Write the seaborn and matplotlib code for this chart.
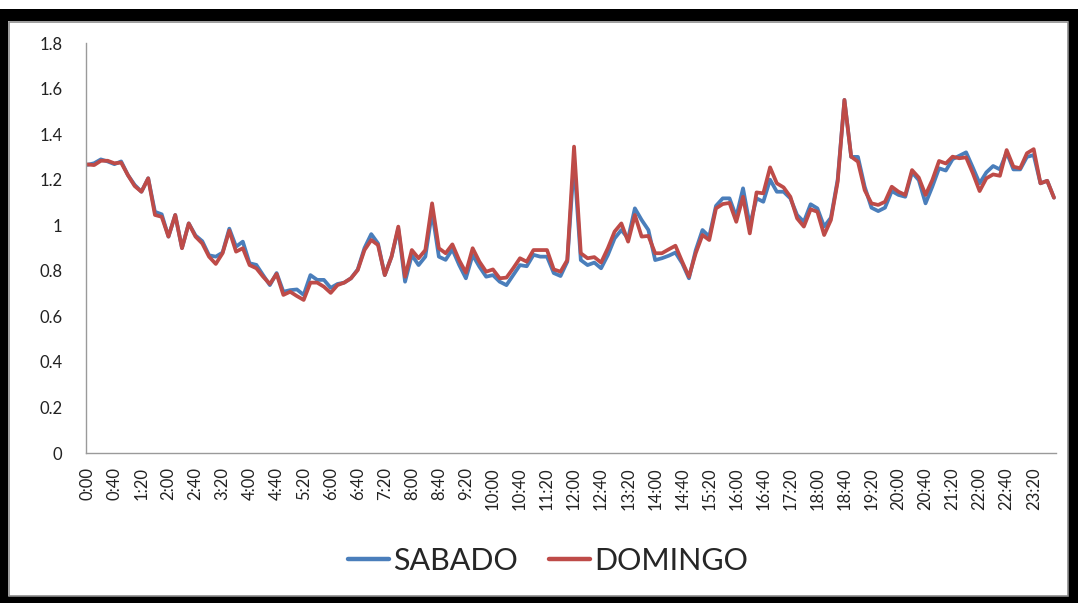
import matplotlib
matplotlib.use("Agg")
import matplotlib.pyplot as plt
from matplotlib.patches import Rectangle
import pandas as pd
import seaborn as sns

# 10-minute time slots over one day
horas = [f"{m // 60}:{m % 60:02d}" for m in range(0, 1440, 10)]

sabado = [
    1.265, 1.272, 1.289, 1.280, 1.268, 1.280, 1.220, 1.177, 1.147, 1.206,
    1.059, 1.048, 0.950, 1.045, 0.900, 1.008, 0.955, 0.930, 0.868, 0.862,
    0.880, 0.985, 0.906, 0.928, 0.833, 0.826, 0.781, 0.737, 0.790, 0.708,
    0.715, 0.718, 0.694, 0.781, 0.760, 0.760, 0.725, 0.742, 0.748, 0.767,
    0.806, 0.900, 0.961, 0.920, 0.781, 0.862, 0.985, 0.752, 0.869, 0.825,
    0.862, 1.059, 0.862, 0.848, 0.894, 0.826, 0.767, 0.869, 0.818, 0.774,
    0.781, 0.752, 0.737, 0.781, 0.825, 0.820, 0.870, 0.862, 0.862, 0.790,
    0.777, 0.840, 1.280, 0.847, 0.825, 0.836, 0.811, 0.869, 0.942, 0.979,
    0.942, 1.074, 1.023, 0.979, 0.847, 0.855, 0.866, 0.880, 0.833, 0.767,
    0.890, 0.979, 0.950, 1.085, 1.118, 1.118, 1.037, 1.162, 1.000, 1.118,
    1.103, 1.200, 1.147, 1.147, 1.118, 1.045, 1.015, 1.092, 1.074, 0.994,
    1.033, 1.200, 1.550, 1.300, 1.300, 1.169, 1.077, 1.062, 1.077, 1.150,
    1.133, 1.125, 1.232, 1.198, 1.096, 1.169, 1.250, 1.240, 1.290, 1.305,
    1.320, 1.253, 1.184, 1.232, 1.260, 1.245, 1.320, 1.245, 1.245, 1.300,
    1.308, 1.184, 1.195, 1.121,
]

domingo = [
    1.267, 1.264, 1.283, 1.283, 1.272, 1.275, 1.220, 1.172, 1.147, 1.206,
    1.045, 1.037, 0.950, 1.045, 0.899, 1.008, 0.950, 0.920, 0.862, 0.830,
    0.877, 0.976, 0.884, 0.899, 0.825, 0.811, 0.774, 0.742, 0.786, 0.694,
    0.708, 0.689, 0.672, 0.748, 0.748, 0.730, 0.703, 0.737, 0.748, 0.767,
    0.803, 0.891, 0.935, 0.913, 0.781, 0.862, 0.994, 0.774, 0.891, 0.855,
    0.891, 1.096, 0.899, 0.877, 0.916, 0.847, 0.792, 0.899, 0.840, 0.796,
    0.806, 0.767, 0.770, 0.811, 0.855, 0.840, 0.891, 0.891, 0.891, 0.806,
    0.796, 0.847, 1.345, 0.877, 0.855, 0.860, 0.836, 0.899, 0.972, 1.008,
    0.928, 1.045, 0.950, 0.953, 0.877, 0.877, 0.894, 0.910, 0.840, 0.774,
    0.877, 0.957, 0.935, 1.074, 1.093, 1.098, 1.015, 1.125, 0.964, 1.144,
    1.140, 1.254, 1.184, 1.166, 1.125, 1.030, 0.994, 1.070, 1.059, 0.957,
    1.023, 1.191, 1.550, 1.301, 1.279, 1.154, 1.096, 1.089, 1.103, 1.169,
    1.147, 1.133, 1.242, 1.209, 1.133, 1.198, 1.282, 1.271, 1.301, 1.294,
    1.298, 1.228, 1.150, 1.206, 1.223, 1.217, 1.330, 1.257, 1.250, 1.316,
    1.334, 1.184, 1.195, 1.121,
]

series_names = ["SABADO", "DOMINGO"]
colors = {"SABADO": "#4A7EBB", "DOMINGO": "#BE4B48"}

sns.set_theme(style="white")
plt.rcParams["font.family"] = ["Lato", "DejaVu Sans"]

df = pd.DataFrame({
    "hora": horas * 2,
    "valor": sabado + domingo,
    "dia": [series_names[0]] * len(horas) + [series_names[1]] * len(horas),
})

fig = plt.figure(figsize=(10.78, 6.03), dpi=100)
fig.patch.set_facecolor("white")
ax = fig.add_axes([86 / 1078, 150 / 603, (1056 - 86) / 1078, 410 / 603])

sns.lineplot(data=df, x="hora", y="valor", hue="dia", palette=colors,
             sort=False, linewidth=2.7, ax=ax, legend=False)

ax.set_ylim(0, 1.8)
ax.set_xlim(-0.2, len(horas) - 0.7)
ax.set_yticks([0, 0.2, 0.4, 0.6, 0.8, 1.0, 1.2, 1.4, 1.6, 1.8])
ax.set_yticklabels(["0", "0.2", "0.4", "0.6", "0.8", "1", "1.2", "1.4", "1.6", "1.8"])
ax.set_xticks(range(0, len(horas), 4))
ax.set_xticklabels(horas[::4], rotation=90)
ax.tick_params(axis="both", length=0, labelsize=12, colors="#222222")
ax.tick_params(axis="y", pad=17)
ax.tick_params(axis="x", pad=10)
ax.set_xlabel("")
ax.set_ylabel("")
for side in ["top", "right"]:
    ax.spines[side].set_visible(False)
for side in ["left", "bottom"]:
    ax.spines[side].set_color("#9A9A9A")
    ax.spines[side].set_linewidth(1.0)

# Legend below the plot
handles = [plt.Line2D([], [], color=colors[n], linewidth=3.2) for n in series_names]
fig.legend(handles, series_names, loc="center", bbox_to_anchor=(548 / 1078, 1 - 561 / 603),
           ncol=2, frameon=False, fontsize=22, handlelength=1.35, handletextpad=0.15,
           columnspacing=1.0)

# Black outer frame with a thin grey inner line
frame = "#000000"
fig.add_artist(Rectangle((0, (603 - 21) / 603), 1, 12 / 603, transform=fig.transFigure,
                         facecolor=frame, edgecolor="none"))
fig.add_artist(Rectangle((0, 0), 8 / 1078, (603 - 9) / 603, transform=fig.transFigure,
                         facecolor=frame, edgecolor="none"))
fig.add_artist(Rectangle((1068 / 1078, 0), 10 / 1078, (603 - 9) / 603, transform=fig.transFigure,
                         facecolor=frame, edgecolor="none"))
fig.add_artist(Rectangle((0, 0), 1, 7 / 603, transform=fig.transFigure,
                         facecolor=frame, edgecolor="none"))
fig.add_artist(Rectangle((8.5 / 1078, 7.5 / 603), (1068 - 9) / 1078, (603 - 21 - 8) / 603,
                         transform=fig.transFigure, facecolor="none",
                         edgecolor="#8C8C8C", linewidth=1.2))

fig.savefig("out.png", dpi=100, facecolor="white")
